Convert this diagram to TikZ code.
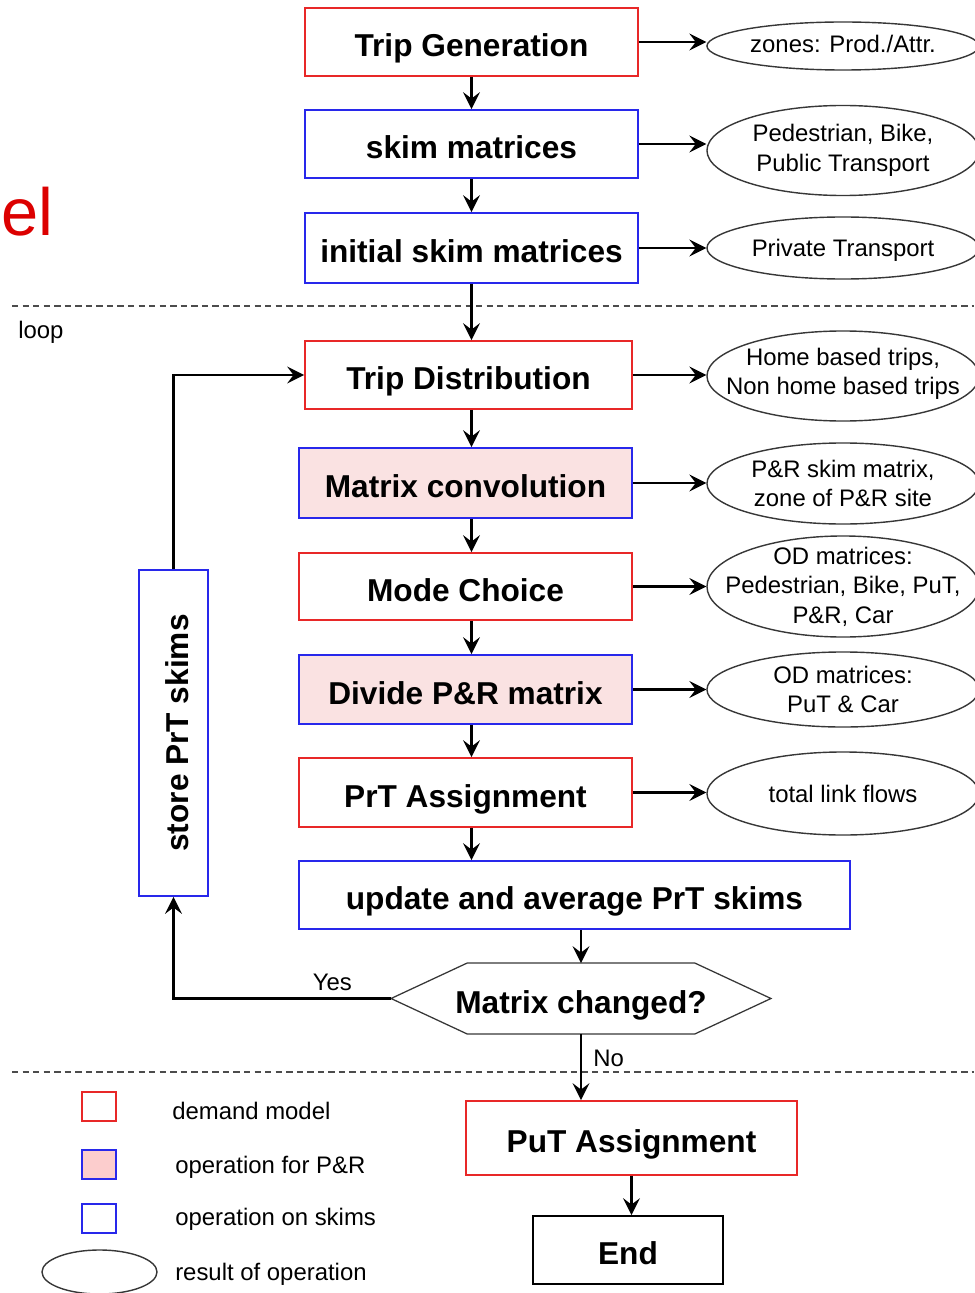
\documentclass[tikz,border=0pt]{standalone}
\usepackage{fontspec}
\setmainfont{Liberation Sans}
\usetikzlibrary{arrows.meta, positioning, shapes.geometric}
\definecolor{demandborder}{RGB}{232,40,40}
\definecolor{skimborder}{RGB}{40,40,235}
\definecolor{prcolor}{RGB}{250,226,226}
\definecolor{resultborder}{RGB}{55,55,55}
\definecolor{titlered}{RGB}{220,0,0}

\begin{document}
\begin{tikzpicture}[
    x=0.025cm, y=-0.025cm,
    every node/.style={font=\fontsize{17}{21}\selectfont},
    opbox/.style={draw, line width=1.3pt, inner sep=0pt,
                  font=\fontsize{22.5}{27}\selectfont\bfseries,
                  text height=21pt, text depth=0pt},
    demandbox/.style={opbox, draw=demandborder},
    skimbox/.style={opbox, draw=skimborder},
    prbox/.style={opbox, draw=skimborder, fill=prcolor},
    endbox/.style={opbox, draw=black},
    result/.style={ellipse, draw=resultborder, line width=1pt,
                   minimum width=6.8cm, inner sep=0pt},
    restext/.style={align=center, inner sep=0pt, font=\fontsize{17}{21}\selectfont},
    legendkey/.style={draw, line width=1.1pt, minimum width=0.85cm,
                      minimum height=0.725cm, inner sep=0pt},
    plain/.style={anchor=base west, inner sep=0pt},
    arr/.style={-{Stealth[length=12pt,width=12pt,inset=4.5pt]}, line width=1.5pt},
    hexline/.style={line width=0.9pt, draw=resultborder},
    sepline/.style={dash pattern=on 4.5pt off 3pt, line width=0.9pt, color=black!70},
]
\useasboundingbox (0,0) rectangle (974,1293);

%% ── Title fragment and loop marker ──────────────────────────────────────────
\node[plain, text=titlered, font=\fontsize{47.5}{50}\selectfont] (modeltitle) at (1,235) {el};
\node[plain] (looplabel) at (18,338) {loop};

\draw[sepline] (12,306) -- (974,306);
\draw[sepline] (12,1072) -- (974,1072);

%% ── Initialisation ──────────────────────────────────────────────────────────
\node[demandbox, minimum width=8.325cm, minimum height=1.7cm]
  (tripgen) at (471.5,42) {Trip Generation};
\node[skimbox, minimum width=8.325cm, minimum height=1.7cm]
  (skim) at (471.5,144) {skim matrices};
\node[skimbox, minimum width=8.325cm, minimum height=1.75cm]
  (initskim) at (471.5,248) {initial skim matrices};

%% ── Loop ────────────────────────────────────────────────────────────────────
\node[demandbox, minimum width=8.175cm, minimum height=1.7cm]
  (tripdist) at (468.5,375) {Trip Distribution};
\node[prbox, minimum width=8.325cm, minimum height=1.75cm]
  (conv) at (465.5,483) {Matrix convolution};
\node[demandbox, minimum width=8.325cm, minimum height=1.675cm]
  (mode) at (465.5,586.5) {Mode Choice};
\node[prbox, minimum width=8.325cm, minimum height=1.725cm]
  (divide) at (465.5,689.5) {Divide P\&R matrix};
\node[demandbox, minimum width=8.325cm, minimum height=1.725cm]
  (prt) at (465.5,792.5) {PrT Assignment};
\node[skimbox, minimum width=13.775cm, minimum height=1.7cm]
  (update) at (574.5,895) {update and average PrT skims};
\node[skimbox, rotate=90, minimum width=8.15cm, minimum height=1.725cm]
  (store) at (173.5,733) {store PrT skims};

%% ── Decision ────────────────────────────────────────────────────────────────
\node[opbox, draw=none, minimum width=9.45cm, minimum height=1.725cm]
  (changed) at (581,998.5) {Matrix changed?};
\draw[hexline] (changed.west) -- ([xshift=1.9cm]changed.north west)
  -- ([xshift=-1.9cm]changed.north east) -- (changed.east)
  -- ([xshift=-1.9cm]changed.south east) -- ([xshift=1.9cm]changed.south west)
  -- cycle;

%% ── Final steps ─────────────────────────────────────────────────────────────
\node[demandbox, minimum width=8.275cm, minimum height=1.85cm]
  (putassign) at (631.5,1138) {PuT Assignment};
\node[endbox, minimum width=4.75cm, minimum height=1.7cm]
  (endnode) at (628,1250) {End};

%% ── Results of each operation ───────────────────────────────────────────────
\node[result, minimum height=1.2cm,
      label={[restext, yshift=1.5pt]center:{zones: Prod./Attr.}}] (zones) at (843,46) {};
\node[result, minimum height=2.25cm,
      label={[restext]center:{Pedestrian, Bike,\\Public Transport}}] (pedbike) at (843,150.5) {};
\node[result, minimum height=1.55cm,
      label={[restext, yshift=-2pt]center:{Private Transport}}] (private) at (843,248) {};
\node[result, minimum height=2.25cm,
      label={[restext, yshift=1.5pt]center:{Home based trips,\\Non home based trips}}] (trips) at (843,376) {};
\node[result, minimum height=2.025cm,
      label={[restext]center:{P\&R skim matrix,\\zone of P\&R site}}] (prskim) at (843,483.5) {};
\node[result, minimum height=2.525cm,
      label={[restext]center:{OD matrices:\\Pedestrian, Bike, PuT,\\P\&R, Car}}] (odall) at (843,586.5) {};
\node[result, minimum height=1.875cm,
      label={[restext]center:{OD matrices:\\PuT \& Car}}] (odputcar) at (843,689.5) {};
\node[result, minimum height=2.075cm,
      label={[restext]center:{total link flows}}] (flows) at (843,793.5) {};

%% ── Main vertical arrows ────────────────────────────────────────────────────
\draw[arr] (tripgen.south) -- (skim.north);
\draw[arr] (skim.south) -- (initskim.north);
\draw[arr] (initskim.south) -- (initskim.south |- tripdist.north);
\draw[arr] (tripdist.south -| initskim.south) -- (conv.north -| initskim.south);
\draw[arr] (conv.south -| initskim.south) -- (mode.north -| initskim.south);
\draw[arr] (mode.south -| initskim.south) -- (divide.north -| initskim.south);
\draw[arr] (divide.south -| initskim.south) -- (prt.north -| initskim.south);
\draw[arr] (prt.south -| initskim.south) -- (update.north -| initskim.south);
\draw[arr] (update.south -| changed.north) -- (changed.north);
\draw[arr] (changed.south)
  -- node[pos=0.37, right=8pt, inner sep=0pt] (nolabel) {No}
  (changed.south |- putassign.north);
\draw[arr] (putassign.south) -- (putassign.south |- endnode.north);

%% ── Feedback through stored skims ───────────────────────────────────────────
\draw[arr] (changed.west)
  -- node[pos=0.27, above=5pt, inner sep=0pt] (yeslabel) {Yes}
  (changed.west -| store.west) -- (store.west);
\draw[arr] (store.east) |- (tripdist.west);

%% ── Arrows to results ───────────────────────────────────────────────────────
\draw[arr] (tripgen.east) -- (tripgen.east -| zones.west);
\draw[arr] (skim.east) -- (skim.east -| pedbike.west);
\draw[arr] (initskim.east) -- (initskim.east -| private.west);
\draw[arr] (tripdist.east) -- (tripdist.east -| trips.west);
\draw[arr] (conv.east) -- (conv.east -| prskim.west);
\draw[arr] (mode.east) -- (mode.east -| odall.west);
\draw[arr] (divide.east) -- (divide.east -| odputcar.west);
\draw[arr] (prt.east) -- (prt.east -| flows.west);

%% ── Legend ──────────────────────────────────────────────────────────────────
\node[legendkey, draw=demandborder] (keydemand) at (99,1106.5) {};
\node[legendkey, draw=skimborder, fill=prcolor!85!red!80!white] (keypr) at (99,1164.5) {};
\node[legendkey, draw=skimborder] (keyskim) at (99,1218.5) {};
\node[result, minimum width=2.875cm, minimum height=1.1cm] (keyresult) at (99.5,1272) {};
\node[plain] (txtdemand) at (172,1119) {demand model};
\node[plain] (txtpr) at (175,1173) {operation for P\&R};
\node[plain] (txtskim) at (175,1225) {operation on skims};
\node[plain] (txtresult) at (175,1280) {result of operation};

\end{tikzpicture}
\end{document}
